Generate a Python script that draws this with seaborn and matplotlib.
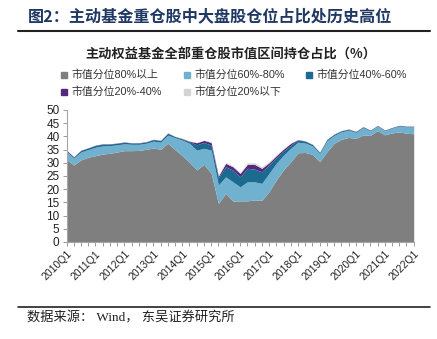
import numpy as np
import pandas as pd
import matplotlib
matplotlib.use("Agg")
import matplotlib.pyplot as plt
import seaborn as sns
from matplotlib.lines import Line2D

# ---------------- data ----------------
quarters = [f"{y}Q{q}" for y in range(2010, 2023) for q in range(1, 5)][:49]
tick_labels = ["2010Q1", "2011Q1", "2012Q1", "2013Q1", "2014Q1", "2015Q1", "2016Q1",
               "2017Q1", "2018Q1", "2019Q1", "2020Q1", "2021Q1", "2022Q1"]

series_names = ["市值分位80%以上", "市值分位60%-80%", "市值分位40%-60%",
                "市值分位20%-40%", "市值分位20%以下"]

cap80 = [31.2, 29.2, 31.1, 32.1, 32.7, 33.3, 33.6, 34.1, 34.6, 34.6, 34.7, 35.1, 35.6, 35.1,
         37.4, 35.0, 32.7, 30.2, 27.3, 29.4, 26.0, 14.6, 18.4, 15.5, 15.6, 15.6, 15.9, 15.8,
         19.1, 23.5, 27.3, 30.4, 33.8, 33.9, 33.2, 30.4, 34.2, 37.4, 38.9, 39.6, 39.3, 40.5,
         40.4, 42.2, 40.6, 41.3, 41.7, 41.2, 41.0]
cap60 = [3.0, 2.6, 3.0, 2.9, 3.2, 3.1, 2.9, 2.7, 2.6, 2.4, 2.3, 2.3, 2.6, 2.7, 3.1,
         4.5, 5.9, 7.2, 7.5, 6.1, 8.8, 7.0, 6.3, 7.3, 5.3, 7.2, 6.9, 6.4, 6.9, 6.3, 5.6,
         5.1, 4.0, 3.6, 3.2, 3.1, 4.1, 3.0, 2.8, 2.8, 2.2, 2.8, 1.7, 1.7, 1.5, 1.8, 2.2,
         2.4, 2.6]
cap40 = [0.5, 0.4, 0.6, 0.6, 0.7, 0.7, 0.6, 0.6, 0.6, 0.5, 0.5, 0.5, 0.6, 0.6, 0.7,
         0.4, 0.4, 0.6, 2.0, 2.2, 1.9, 2.8, 3.8, 4.4, 3.8, 5.1, 4.8, 4.4, 3.2, 2.1, 1.6,
         1.2, 0.8, 0.7, 0.5, 0.4, 0.5, 0.4, 0.4, 0.3, 0.3, 0.3, 0.2, 0.2, 0.2, 0.2, 0.2,
         0.2, 0.2]
cap20 = [0.1, 0.1, 0.1, 0.1, 0.1, 0.1, 0.1, 0.1, 0.1, 0.1, 0.1, 0.1, 0.1, 0.1, 0.1,
         0.1, 0.2, 0.2, 0.8, 0.8, 1.0, 0.6, 1.3, 1.3, 1.3, 1.5, 1.8, 1.3, 0.8, 0.8, 0.7,
         0.7, 0.2, 0.1, 0.1, 0.1, 0.1, 0.1, 0.1, 0.1, 0.1, 0.1, 0.1, 0.1, 0.1, 0.1, 0.1,
         0.1, 0.1]
cap0 = [0.0, 0.0, 0.0, 0.0, 0.0, 0.0, 0.0, 0.0, 0.0, 0.0, 0.0, 0.0, 0.0, 0.0, 0.0,
        0.0, 0.1, 0.1, 0.1, 0.1, 0.3, 0.4, 0.4, 0.4, 0.4, 0.6, 0.6, 0.6, 0.5, 0.3, 0.3,
        0.2, 0.1, 0.1, 0.0, 0.0, 0.0, 0.0, 0.0, 0.0, 0.0, 0.0, 0.0, 0.0, 0.0, 0.0, 0.0,
        0.0, 0.0]

df = pd.DataFrame({"quarter": quarters, series_names[0]: cap80, series_names[1]: cap60,
                   series_names[2]: cap40, series_names[3]: cap20, series_names[4]: cap0})

colors = ["#7f7f7f", "#6fb1cf", "#1b6a8f", "#55297f", "#d3d3d3"]

# ---------------- style ----------------
sns.set_theme(style="white")
plt.rcParams["font.family"] = ["Liberation Sans", "Noto Sans CJK SC"]
plt.rcParams["axes.unicode_minus"] = False

W, H = 437, 339
fig = plt.figure(figsize=(W / 100, H / 100), dpi=100)
ax = fig.add_axes([66.5 / W, 1 - 242 / H, (413.7 - 66.5) / W, (242 - 110) / H])

x = np.arange(len(df))
ax.stackplot(x, *[df[n].values for n in series_names], colors=colors, linewidth=0)

ax.set_xlim(0, len(df) - 1)
ax.set_ylim(0, 50)
ax.set_yticks(np.arange(0, 51, 5))
ax.set_xticks(np.arange(0, len(df), 4))
ax.set_xticklabels(tick_labels, rotation=45, ha="right", rotation_mode="anchor",
                   fontsize=7.5, color="#222222")
ax.set_xticks(np.arange(0, len(df)), minor=True)
ax.tick_params(axis="y", labelsize=8.5, colors="#999999", labelcolor="#222222",
               length=3, width=0.7, direction="out", left=True, pad=2)
ax.tick_params(axis="x", which="both", colors="#999999", labelcolor="#222222",
               length=3, width=0.7, direction="out", bottom=True, pad=2)
for s in ["top", "right"]:
    ax.spines[s].set_visible(False)
for s in ["left", "bottom"]:
    ax.spines[s].set_color("#a6a6a6")
    ax.spines[s].set_linewidth(0.8)
ax.set_xlabel("")
ax.set_ylabel("")
ax.grid(False)

# ---------------- texts ----------------
fig.text(28 / W, 1 - 16 / H, "图2：主动基金重仓股中大盘股仓位占比处历史高位",
         fontsize=11.6, fontweight="bold", color="#1f3864", va="center", ha="left",
         family=["Noto Sans CJK SC"])
fig.add_artist(Line2D([18 / W, 430 / W], [1 - 31 / H, 1 - 31 / H], color="#222222", lw=1.5))

fig.text(231 / W, 1 - 55 / H, "主动权益基金全部重仓股市值区间持仓占比（%）",
         fontsize=9.5, fontweight="bold", color="#222222", va="center", ha="center",
         family=["Noto Sans CJK SC"])

legend_pos = [(60, 75), (183, 75), (305, 75), (60, 92), (183, 92)]
for name, col, (lx, ly) in zip(series_names, colors, legend_pos):
    h = Line2D([], [], marker="s", linestyle="none", markersize=4.5,
               markerfacecolor=col, markeredgecolor=col)
    fig.legend([h], [name], loc="center left", bbox_to_anchor=(lx / W, 1 - ly / H),
               frameon=False, fontsize=7.8, borderpad=0, borderaxespad=0,
               handlelength=0.8, handletextpad=0.3, labelcolor="#333333")

fig.add_artist(Line2D([18 / W, 430 / W], [1 - 307 / H, 1 - 307 / H], color="#222222", lw=1.2))
fig.text(27 / W, 1 - 318 / H, "数据来源： Wind， 东吴证券研究所", fontsize=9.5,
         color="#222222", va="center", ha="left",
         family=["Liberation Serif", "Noto Sans CJK SC"])

fig.savefig("out.png", dpi=100)
